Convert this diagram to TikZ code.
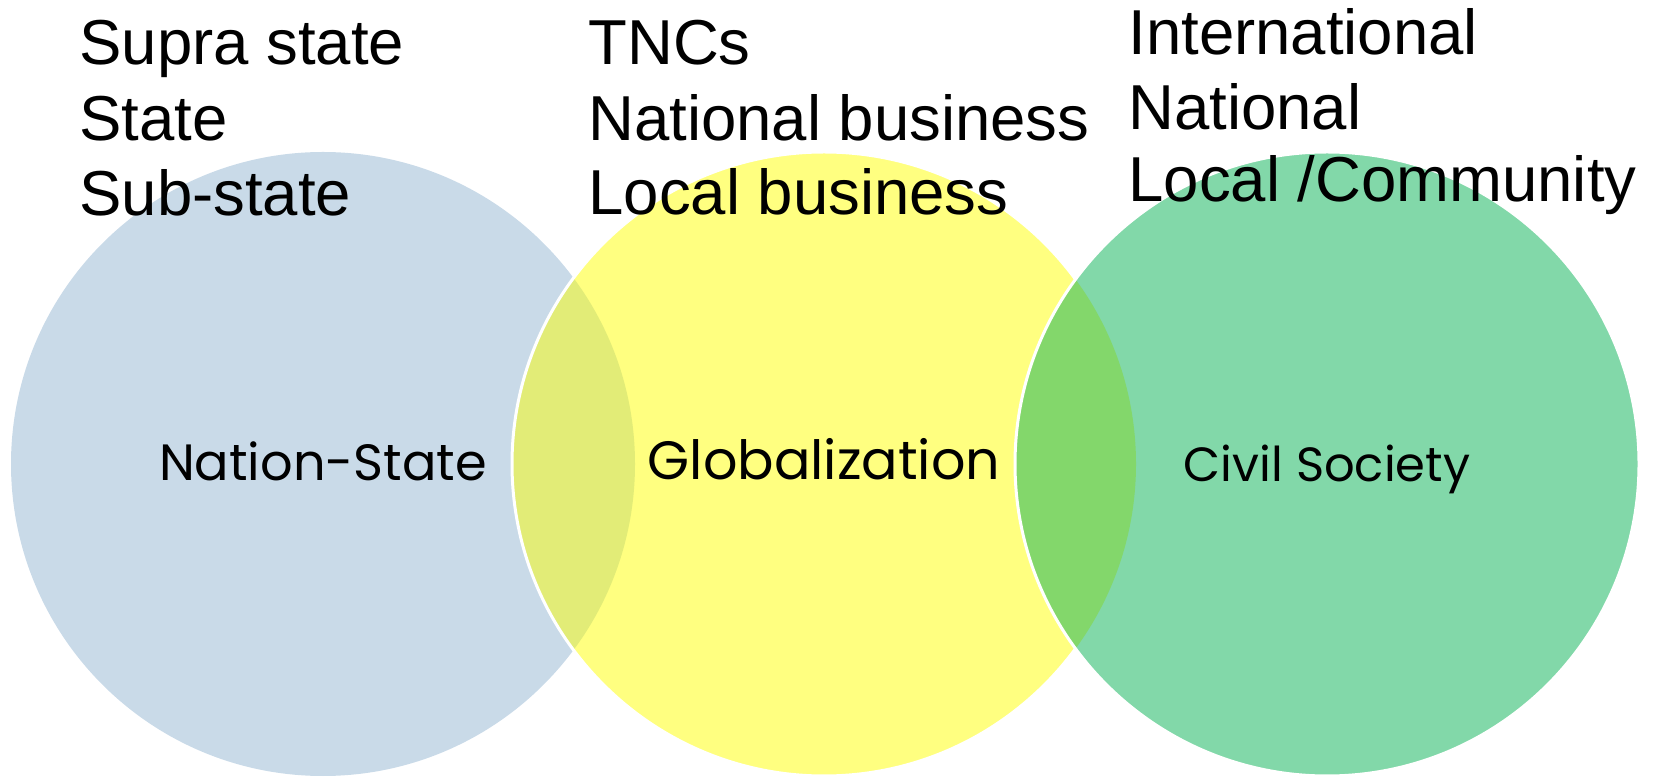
\documentclass[tikz,border=0pt]{standalone}
\usepackage{fontspec}
\setmainfont{Liberation Sans}
\newfontfamily\geofont{Poppins}
\definecolor{cblue}{HTML}{C9DAE8}
\definecolor{cyellow}{HTML}{FFFF80}
\definecolor{cgreen}{HTML}{82D8A9}
\definecolor{lensBY}{HTML}{E2EC77}
\definecolor{lensYG}{HTML}{83D76B}
\tikzset{
  listtext/.style={anchor=base west, inner sep=0pt, font=\fontsize{31.75pt}{37pt}\selectfont},
  circlabel/.style={anchor=base, inner sep=0pt, font=\geofont\fontsize{27pt}{32pt}\selectfont},
  smalllabel/.style={anchor=base, inner sep=0pt, font=\geofont\fontsize{24pt}{28pt}\selectfont},
  rim/.style={draw=white, line width=1.5pt}
}
\begin{document}
\begin{tikzpicture}[x=0.5pt,y=-0.5pt]
\useasboundingbox (0,0) rectangle (1654,779);
\def\R{312}
\coordinate (cA) at (323,464);
\coordinate (cB) at (824,464);
\coordinate (cC) at (1327,464);
% blue circle
\fill[cblue] (cA) circle[radius=\R];
% yellow circle
\fill[cyellow] (cB) circle[radius=\R];
\begin{scope}
  \clip (cA) circle[radius=\R];
  \fill[lensBY] (cB) circle[radius=\R];
\end{scope}
\draw[rim] (cB) circle[radius=\R];
% green circle
\fill[cgreen] (cC) circle[radius=\R];
\begin{scope}
  \clip (cB) circle[radius=\R];
  \fill[lensYG] (cC) circle[radius=\R];
\end{scope}
\draw[rim] (cC) circle[radius=\R];
% circle labels
\node[circlabel, font=\geofont\fontsize{25.5pt}{30pt}\selectfont] (ns) at (323,481) {Nation-State};
\node[circlabel] (gl) at (824,480) {Globalization};
\node[smalllabel] (cs) at (1327,482) {Civil Society};
% lists
\node[listtext] (l1) at (79,65) {Supra state};
\node[listtext] (l2) at (79,141) {State};
\node[listtext] (l3) at (79,216) {Sub-state};
\node[listtext] (m1) at (588,65) {TNCs};
\node[listtext] (m2) at (588,141) {National business};
\node[listtext] (m3) at (588,215) {Local business};
\node[listtext] (r1) at (1128,55) {International};
\node[listtext] (r2) at (1128,130) {National};
\node[listtext] (r3) at (1128,202) {Local /Community};
\end{tikzpicture}
\end{document}
